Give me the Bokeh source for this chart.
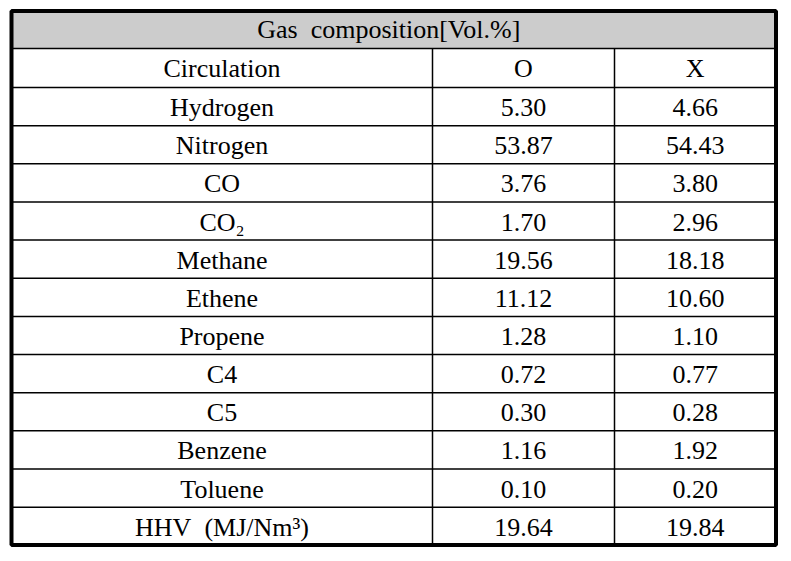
from bokeh.plotting import figure
from bokeh.models import Range1d, ColumnDataSource
from bokeh.core.properties import value
from bokeh.embed import file_html
from bokeh.resources import INLINE

# ---- data ----
title = "Gas\u00a0 composition[Vol.%]"
col_headers = ["Circulation", "O", "X"]
components = ["Hydrogen", "Nitrogen", "CO", "CO\u2082", "Methane", "Ethene",
              "Propene", "C4", "C5", "Benzene", "Toluene", "HHV\u00a0 (MJ/Nm\u00b3)"]
vals_o = [5.30, 53.87, 3.76, 1.70, 19.56, 11.12, 1.28, 0.72, 0.30, 1.16, 0.10, 19.64]
vals_x = [4.66, 54.43, 3.80, 2.96, 18.18, 10.60, 1.10, 0.77, 0.28, 1.92, 0.20, 19.84]

# ---- layout (pixel-like data space) ----
W, H = 785, 553
FONT = "Liberation Serif"
FS = "26px"
col_edges = [11, 432, 614, 775.5]
row_edges = [10.5, 48, 87] + [87 + 38.15 * k for k in range(1, 12)] + [544.5]

p = figure(width=W, height=H, output_backend="svg", toolbar_location=None,
           x_range=Range1d(0, W), y_range=Range1d(H, 0), min_border=0)
p.axis.visible = False
p.grid.visible = False
p.outline_line_color = None
p.background_fill_color = "white"
p.border_fill_color = "white"

# header fill
p.quad(left=[col_edges[0]], right=[col_edges[-1]], top=[row_edges[0]], bottom=[row_edges[1]],
       fill_color="#cccccc", line_color=None)

# horizontal inner lines
hy = row_edges[1:-1]
p.segment(x0=[col_edges[0]] * len(hy), x1=[col_edges[-1]] * len(hy), y0=hy, y1=hy,
          line_color="black", line_width=1.5)
# vertical inner lines
vx = col_edges[1:-1]
p.segment(x0=vx, x1=vx, y0=[row_edges[1]] * len(vx), y1=[row_edges[-1]] * len(vx),
          line_color="black", line_width=1.5)
# outer border
p.quad(left=[col_edges[0]], right=[col_edges[-1]], top=[row_edges[0]], bottom=[row_edges[-1]],
       fill_color=None, line_color="black", line_width=4)

# texts
centers_x = [(col_edges[i] + col_edges[i + 1]) / 2 for i in range(3)]
centers_y = [(row_edges[i] + row_edges[i + 1]) / 2 for i in range(len(row_edges) - 1)]

xs, ys, ts = [], [], []
xs.append((col_edges[0] + col_edges[-1]) / 2 - 5); ys.append(centers_y[0]); ts.append(title)
for j, h in enumerate(col_headers):
    xs.append(centers_x[j]); ys.append(centers_y[1]); ts.append(h)
for i, name in enumerate(components):
    cy = centers_y[2 + i] + 1
    xs += [centers_x[0], centers_x[1], centers_x[2]]
    ys += [cy, cy, cy]
    ts += [name, f"{vals_o[i]:.2f}", f"{vals_x[i]:.2f}"]

src = ColumnDataSource(dict(x=xs, y=ys, t=ts))
p.text(x="x", y="y", text="t", source=src, text_font=value(FONT), text_font_size=FS,
       text_align="center", text_baseline="middle", text_color="black")

open("out.html", "w").write(file_html(p, INLINE))
